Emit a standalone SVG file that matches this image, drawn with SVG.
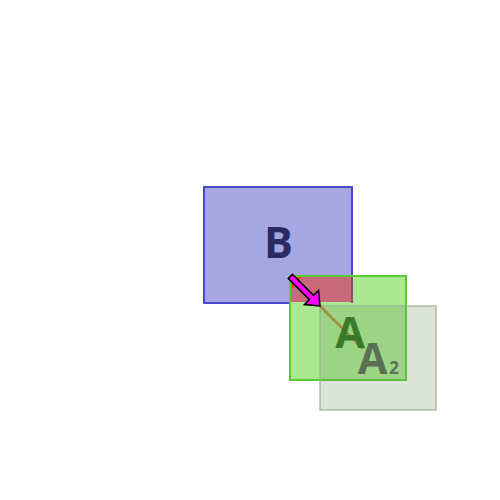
<svg xmlns="http://www.w3.org/2000/svg" width="500" height="500" viewBox="0 0 500 500">
<style>
.lbl{font-family:"Open Sans","DejaVu Sans",sans-serif;font-weight:bold;text-anchor:middle}
</style>
<rect width="500" height="500" fill="#ffffff"/>
<g id="B">
<rect x="204" y="187" width="148" height="116" fill="#a6a6e0" stroke="#4a4ac6" stroke-width="2"/>
</g>
<g id="A">
<rect x="290" y="276" width="116" height="104" fill="#aae890" stroke="#55cc33" stroke-width="2"/>
</g>
<g id="overlap">
<rect x="291" y="277" width="60" height="25" fill="#c86a7a"/>
<line x1="352" y1="277" x2="352" y2="303" stroke="#8a4a78" stroke-width="2"/>
</g>
<g id="A2">
<rect x="320" y="306" width="116" height="104" fill="#78976a" fill-opacity="0.26" stroke="#98b090" stroke-opacity="0.6" stroke-width="2"/>
</g>
<g id="connectors">
<line x1="318" y1="304" x2="363" y2="349" stroke="#a08c40" stroke-width="2.5"/>
<polygon points="292,277 301,277 292,289" fill="#ff3300"/>
<polygon points="288.2,278.4 309.4,299.6 304.4,304.6 320,306 318.6,290.4 313.6,295.4 292.4,274.2" fill="#ff00ff" stroke="#000000" stroke-width="1.5" stroke-linejoin="miter"/>
</g>
<g id="labels">
<text class="lbl" x="278.5" y="258" font-size="43" fill="#2a2a66">B</text>
<text class="lbl" x="350" y="348" font-size="43" fill="#3a7a2a">A</text>
<text class="lbl" x="372.5" y="374" font-size="43" fill="#5a7052">A</text>
<text class="lbl" x="394" y="374" font-size="17" fill="#5a7052">2</text>
</g>
</svg>
